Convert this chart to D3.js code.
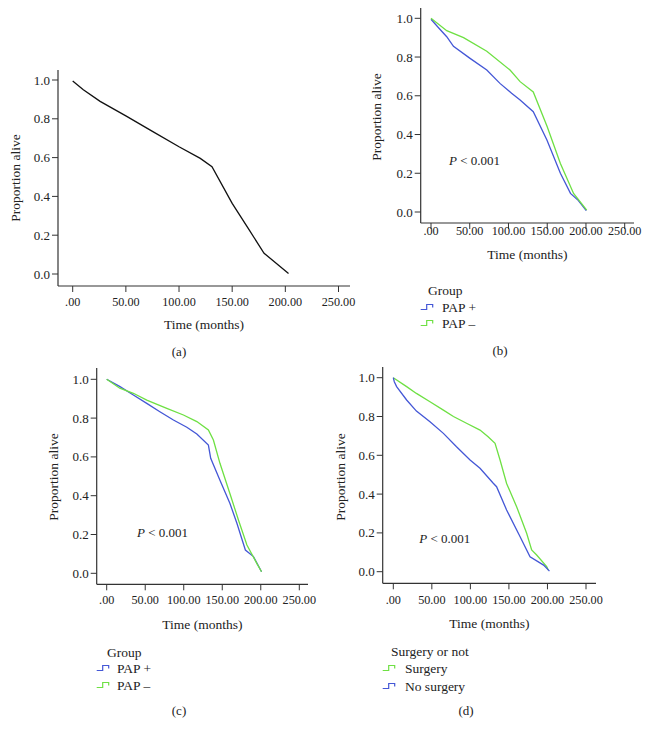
<!DOCTYPE html>
<html><head><meta charset="utf-8">
<script src="https://cdn.jsdelivr.net/npm/d3@7/dist/d3.min.js"></script>
<style>body{margin:0;background:#fff}svg{display:block}text{font-family:"Liberation Serif","DejaVu Serif",serif;fill:#222}</style>
</head><body>
<svg id="c" width="649" height="737"></svg>
<script>
// ---- data ----
const xTicks = [0, 50, 100, 150, 200, 250];
const xTickLabels = [".00", "50.00", "100.00", "150.00", "200.00", "250.00"];
const yTicks = [0, 0.2, 0.4, 0.6, 0.8, 1.0];
const yTickLabels = ["0.0", "0.2", "0.4", "0.6", "0.8", "1.0"];

const overallA = [[0,0.995],[10,0.95],[25.8,0.89],[50,0.815],[75,0.735],[100,0.656],[120,0.596],[131,0.553],[150,0.364],[166,0.227],[180,0.107],[203,0.003]];

const papPlusB = [[0,0.995],[10,0.95],[20.3,0.905],[29,0.855],[50.4,0.793],[72,0.733],[89,0.664],[104,0.613],[115,0.578],[132,0.518],[149.6,0.372],[167,0.2],[180,0.096],[190,0.06],[200.4,0.007]];
const papMinusB = [[0,1.0],[20.3,0.936],[42,0.9],[72,0.83],[102,0.733],[115,0.673],[132,0.62],[150,0.44],[167,0.25],[184,0.096],[201,0.01]];

const papPlusC = [[0,1.0],[17.3,0.962],[34.6,0.919],[52,0.876],[69,0.833],[86.6,0.79],[104,0.753],[117,0.718],[132,0.661],[135,0.593],[147,0.48],[160,0.36],[169,0.258],[180,0.12],[190.5,0.086],[201,0.008]];
const papMinusC = [[0,1.0],[17,0.954],[34.6,0.928],[52,0.893],[78,0.85],[99.6,0.816],[117,0.782],[132,0.739],[138.5,0.687],[147,0.567],[160,0.41],[171,0.275],[182,0.146],[195,0.05],[201,0.008]];

const surgeryD = [[0,1.0],[17.3,0.954],[30,0.919],[47.6,0.876],[65,0.833],[78,0.8],[95,0.765],[112.5,0.73],[123,0.696],[132,0.662],[138.5,0.576],[147,0.455],[160,0.335],[173,0.198],[179.5,0.112],[186,0.086],[199,0.026],[201,0.009]];
const noSurgeryD = [[0,1.0],[1.3,0.979],[4.3,0.954],[17.3,0.885],[30,0.828],[47.6,0.773],[65,0.713],[82,0.644],[99.6,0.576],[112.5,0.533],[129.7,0.456],[134,0.438],[147,0.318],[164.5,0.18],[177.4,0.077],[195,0.034],[202.6,0.003]];

const BLUE = "#4457d6", GREEN = "#6ee043", BLACK = "#111";

// ---- layout ----
const panels = [
  {ax:58, x0:72.7, x250:338.5, y0:274, y1:80, axisY:286, axisEnd:350, yTop:70, tickY:302, titleY:324,
   capX:179, capY:351, cap:"(a)", ylabX:15, ylabY:178,
   series:[{d:overallA, c:BLACK}], p:null, legend:null},
  {ax:420.7, x0:431, x250:624.7, y0:212, y1:18.3, axisY:223, axisEnd:634, yTop:8, tickY:231, titleY:254,
   capX:500, capY:350, cap:"(b)", ylabX:376.7, ylabY:117,
   series:[{d:papPlusB, c:BLUE},{d:papMinusB, c:GREEN}], p:{x:449,y:160},
   legend:{title:"Group", tx:428, ty:290, sx:420.7, textX:442, items:[{t:"PAP +",c:BLUE,y:307},{t:"PAP \u2013",c:GREEN,y:323}]}},
  {ax:96.7, x0:106.7, x250:299.3, y0:573.3, y1:379.3, axisY:584.3, axisEnd:308, yTop:368, tickY:600, titleY:624,
   capX:179, capY:710, cap:"(c)", ylabX:53, ylabY:477,
   series:[{d:papPlusC, c:BLUE},{d:papMinusC, c:GREEN}], p:{x:137,y:532},
   legend:{title:"Group", tx:107, ty:652, sx:96.7, textX:117, items:[{t:"PAP +",c:BLUE,y:668},{t:"PAP \u2013",c:GREEN,y:685}]}},
  {ax:382.7, x0:393.3, x250:586, y0:571.7, y1:377.7, axisY:583.3, axisEnd:596, yTop:367, tickY:599.3, titleY:623.3,
   capX:466, capY:710, cap:"(d)", ylabX:340, ylabY:477,
   series:[{d:surgeryD, c:GREEN},{d:noSurgeryD, c:BLUE}], p:{x:419.3,y:538.3},
   legend:{title:"Surgery or not", tx:391, ty:651, sx:382.7, textX:405, items:[{t:"Surgery",c:GREEN,y:668},{t:"No surgery",c:BLUE,y:686}]}}
];

const svg = d3.select("#c");
panels.forEach(P => {
  const g = svg.append("g");
  const x = d3.scaleLinear().domain([0, 250]).range([P.x0, P.x250]);
  const y = d3.scaleLinear().domain([0, 1]).range([P.y0, P.y1]);
  const axCol = "#333";
  g.append("line").attr("x1",P.ax).attr("x2",P.ax).attr("y1",P.yTop).attr("y2",P.axisY).attr("stroke",axCol).attr("stroke-width",1.2);
  g.append("line").attr("x1",P.ax).attr("x2",P.axisEnd).attr("y1",P.axisY).attr("y2",P.axisY).attr("stroke",axCol).attr("stroke-width",1.2);
  yTicks.forEach((v,i) => {
    g.append("line").attr("x1",P.ax-6).attr("x2",P.ax).attr("y1",y(v)).attr("y2",y(v)).attr("stroke",axCol);
    g.append("text").attr("x",P.ax-8).attr("y",y(v)).attr("dy","0.35em").attr("text-anchor","end").attr("font-size",13).text(yTickLabels[i]);
  });
  xTicks.forEach((v,i) => {
    g.append("line").attr("x1",x(v)).attr("x2",x(v)).attr("y1",P.axisY).attr("y2",P.axisY+6).attr("stroke",axCol);
    g.append("text").attr("x",x(v)).attr("y",P.tickY).attr("dy","0.35em").attr("text-anchor","middle").attr("font-size",12.2).text(xTickLabels[i]);
  });
  g.append("text").attr("x",(P.ax+P.axisEnd)/2).attr("y",P.titleY).attr("dy","0.35em").attr("text-anchor","middle").attr("font-size",13.5).text("Time (months)");
  g.append("text").attr("transform",`translate(${P.ylabX},${P.ylabY}) rotate(-90)`).attr("dy","0.35em").attr("text-anchor","middle").attr("font-size",13.5).text("Proportion alive");
  g.append("text").attr("x",P.capX).attr("y",P.capY).attr("dy","0.35em").attr("text-anchor","middle").attr("font-size",13).text(P.cap);
  const line = d3.line().x(d=>x(d[0])).y(d=>y(d[1]));
  P.series.forEach(s => {
    g.append("path").attr("d", line(s.d)).attr("fill","none").attr("stroke",s.c).attr("stroke-width",1.3);
  });
  if (P.p) {
    const t = g.append("text").attr("x",P.p.x).attr("y",P.p.y).attr("dy","0.35em").attr("font-size",13);
    t.append("tspan").attr("font-style","italic").text("P");
    t.append("tspan").text(" < 0.001");
  }
  if (P.legend) {
    const L = P.legend;
    g.append("text").attr("x",L.tx).attr("y",L.ty).attr("dy","0.35em").attr("font-size",13.5).text(L.title);
    L.items.forEach(it => {
      const sx = L.sx, sy = it.y;
      g.append("path").attr("d",`M${sx},${sy+2.5}H${sx+6}V${sy-2.5}H${sx+12}V${sy+0.5}`).attr("fill","none").attr("stroke",it.c).attr("stroke-width",1.2);
      g.append("text").attr("x",L.textX).attr("y",sy).attr("dy","0.35em").attr("font-size",13.5).text(it.t);
    });
  }
});
</script>
</body></html>
